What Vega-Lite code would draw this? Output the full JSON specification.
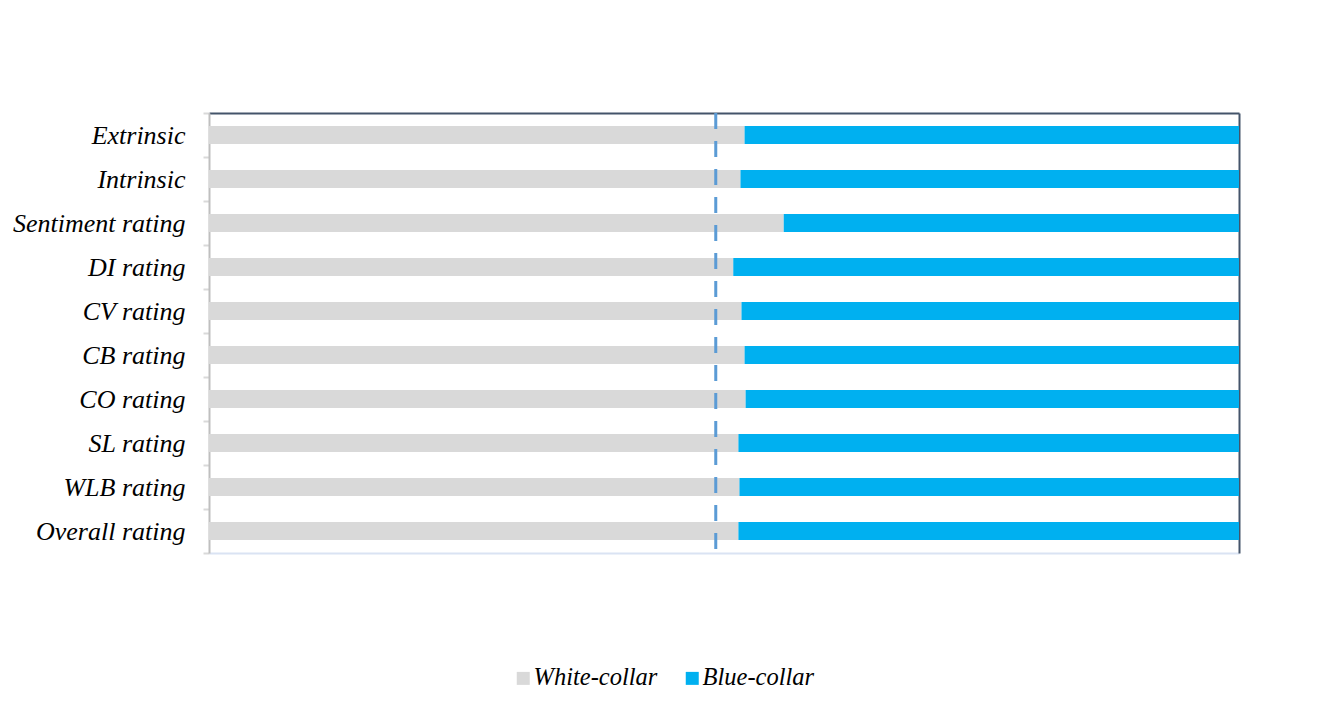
{
  "$schema": "https://vega.github.io/schema/vega-lite/v6.json",
  "autosize": {"type": "none"},
  "width": 1030,
  "height": 440,
  "padding": {"left": 209, "top": 113, "right": 78, "bottom": 162},
  "background": "white",
  "config": {"view": {"stroke": null}},
  "datasets": {
    "shares": [
      {"item": "Extrinsic", "group": "White-collar", "share": 0.520, "idx": 1},
      {"item": "Extrinsic", "group": "Blue-collar", "share": 0.480, "idx": 2},
      {"item": "Intrinsic", "group": "White-collar", "share": 0.516, "idx": 1},
      {"item": "Intrinsic", "group": "Blue-collar", "share": 0.484, "idx": 2},
      {"item": "Sentiment rating", "group": "White-collar", "share": 0.558, "idx": 1},
      {"item": "Sentiment rating", "group": "Blue-collar", "share": 0.442, "idx": 2},
      {"item": "DI rating", "group": "White-collar", "share": 0.509, "idx": 1},
      {"item": "DI rating", "group": "Blue-collar", "share": 0.491, "idx": 2},
      {"item": "CV rating", "group": "White-collar", "share": 0.517, "idx": 1},
      {"item": "CV rating", "group": "Blue-collar", "share": 0.483, "idx": 2},
      {"item": "CB rating", "group": "White-collar", "share": 0.520, "idx": 1},
      {"item": "CB rating", "group": "Blue-collar", "share": 0.480, "idx": 2},
      {"item": "CO rating", "group": "White-collar", "share": 0.521, "idx": 1},
      {"item": "CO rating", "group": "Blue-collar", "share": 0.479, "idx": 2},
      {"item": "SL rating", "group": "White-collar", "share": 0.514, "idx": 1},
      {"item": "SL rating", "group": "Blue-collar", "share": 0.486, "idx": 2},
      {"item": "WLB rating", "group": "White-collar", "share": 0.515, "idx": 1},
      {"item": "WLB rating", "group": "Blue-collar", "share": 0.485, "idx": 2},
      {"item": "Overall rating", "group": "White-collar", "share": 0.514, "idx": 1},
      {"item": "Overall rating", "group": "Blue-collar", "share": 0.486, "idx": 2}
    ],
    "ref": [{"value": 0.492}]
  },
  "resolve": {"axis": {"x": "independent", "y": "independent"}},
  "layer": [
    {
      "data": {"name": "shares"},
      "mark": {"type": "bar", "height": {"band": 0.41}},
      "encoding": {
        "y": {
          "field": "item", "type": "nominal", "sort": null,
          "scale": {"paddingInner": 0, "paddingOuter": 0},
          "axis": {
            "title": null, "orient": "left", "tickBand": "extent",
            "domainColor": "#bfbfbf", "domainWidth": 2,
            "tickColor": "#d9d9d9", "tickSize": 6, "tickWidth": 2,
            "labelFont": "Liberation Serif", "labelFontStyle": "italic",
            "labelFontSize": 26, "labelColor": "#000000", "labelPadding": 18
          }
        },
        "x": {
          "field": "share", "type": "quantitative", "stack": "zero",
          "scale": {"domain": [0, 1], "nice": false, "zero": true},
          "axis": {
            "title": null, "orient": "bottom", "labels": false, "ticks": false, "grid": false,
            "domainColor": "#dae3f3", "domainWidth": 2
          }
        },
        "color": {
          "field": "group", "type": "nominal",
          "scale": {"domain": ["White-collar", "Blue-collar"], "range": ["#d9d9d9", "#00b0f0"]},
          "legend": {
            "title": null, "orient": "none", "direction": "horizontal",
            "legendX": 302, "legendY": 553,
            "symbolType": "square", "symbolSize": 169, "symbolStrokeWidth": 0,
            "labelFont": "Liberation Serif", "labelFontStyle": "italic",
            "labelFontSize": 24.5, "labelColor": "#000000", "labelOffset": -2,
            "columnPadding": 22, "labelLimit": 300
          }
        },
        "order": {"field": "idx", "type": "quantitative"}
      }
    },
    {
      "data": {"name": "shares"},
      "mark": {"type": "bar", "opacity": 0, "height": {"band": 0.41}},
      "encoding": {
        "y": {
          "field": "item", "type": "nominal", "sort": null,
          "axis": {
            "title": null, "orient": "right", "labels": false, "ticks": false,
            "domainColor": "#44546a", "domainWidth": 2
          }
        },
        "x": {
          "field": "share", "type": "quantitative", "stack": "zero",
          "axis": null
        }
      }
    },
    {
      "data": {"name": "ref"},
      "mark": {"type": "rule", "color": "#5b9bd5", "strokeWidth": 3, "strokeDash": [16, 12]},
      "encoding": {
        "x": {
          "field": "value", "type": "quantitative",
          "axis": {
            "title": null, "orient": "top", "labels": false, "ticks": false, "grid": false,
            "domainColor": "#44546a", "domainWidth": 2
          }
        }
      }
    }
  ]
}
